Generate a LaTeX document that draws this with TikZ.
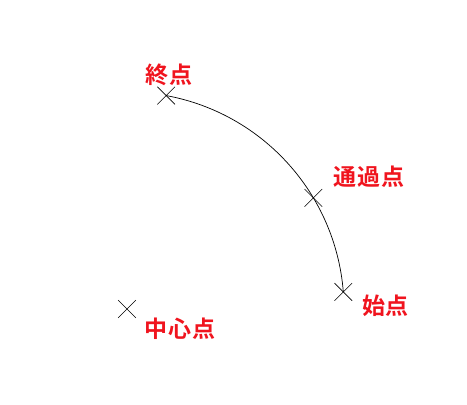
\documentclass[tikz,border=0pt]{standalone}
\usepackage{fontspec}
\newfontfamily\jpfont{Noto Sans CJK JP Bold}[LetterSpace=4]
\usetikzlibrary{shapes.misc,calc}
\definecolor{lblred}{RGB}{240,20,30}
\tikzset{
  xmark/.style={cross out, draw=black, minimum size=17pt, inner sep=0pt, line width=0.6pt},
  lbl/.style={text=lblred, font=\jpfont\fontsize{23}{23}\selectfont, inner sep=0pt},
  arcline/.style={draw=black, line width=0.7pt}
}
\begin{document}
\begin{tikzpicture}[x=1pt,y=1pt]
  \useasboundingbox (0,0) rectangle (467,405);
  \coordinate (c) at (127,96);
  \node[xmark] (center) at (c) {};
  \node[xmark] (start) at ($(c)+(4.5:217)$) {};
  \node[xmark] (via) at ($(c)+(30.8:217)$) {};
  \node[xmark] (end) at ($(c)+(79.6:217)$) {};
  \draw[arcline] (start.center) arc[start angle=4.5, end angle=79.6, radius=217];
  \node[lbl] (lend) at (169,330.5) {終点};
  \node[lbl] (lvia) at (369,228) {通過点};
  \node[lbl] (lstart) at (385.5,99.5) {始点};
  \node[lbl] (lcenter) at (180,76) {中心点};
\end{tikzpicture}
\end{document}
